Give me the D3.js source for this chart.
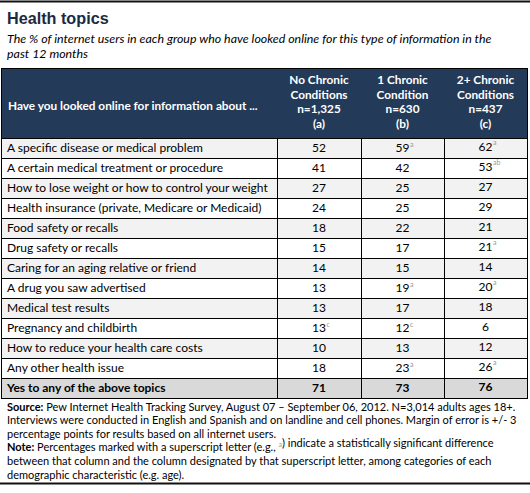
<!DOCTYPE html>
<html><head><meta charset="utf-8">
<script src="https://cdn.jsdelivr.net/npm/d3@7"></script>
<style>body{margin:0;background:#fff}svg{display:block}</style>
</head><body>
<script>
const titleText = "Health topics";
const subtitleLines = ["The % of internet users in each group who have looked online for this type of information in the", "past 12 months"];
const rowHeader = "Have you looked online for information about ...";
const columnKeys = ["a", "b", "c"];
const columnHeaders = [
  ["No Chronic", "Conditions", "n=1,325", "(a)"],
  ["1 Chronic", "Condition", "n=630", "(b)"],
  ["2+ Chronic", "Conditions", "n=437", "(c)"]
];
const topics = [
  "A specific disease or medical problem",
  "A certain medical treatment or procedure",
  "How to lose weight or how to control your weight",
  "Health insurance (private, Medicare or Medicaid)",
  "Food safety or recalls",
  "Drug safety or recalls",
  "Caring for an aging relative or friend",
  "A drug you saw advertised",
  "Medical test results",
  "Pregnancy and childbirth",
  "How to reduce your health care costs",
  "Any other health issue",
  "Yes to any of the above topics"
];
const noChronic = [52, 41, 27, 24, 18, 15, 14, 13, 13, 13, 10, 18, 71];
const oneChronic = [59, 42, 25, 25, 22, 17, 15, 19, 17, 12, 13, 23, 73];
const twoPlusChronic = [62, 53, 27, 29, 21, 21, 14, 20, 18, 6, 12, 26, 76];
const noChronicSup = ["", "", "", "", "", "", "", "", "", "c", "", "", ""];
const oneChronicSup = ["a", "", "", "", "", "", "", "a", "", "c", "", "a", ""];
const twoPlusChronicSup = ["a", "ab", "", "", "", "a", "", "a", "", "", "", "a", ""];
const footerLines = [
  [["Source:", true], [" Pew Internet Health Tracking Survey, August 07 \u2013 September 06, 2012. N=3,014 adults ages 18+.", false]],
  [["Interviews were conducted in English and Spanish and on landline and cell phones.  Margin of error is +/- 3", false]],
  [["percentage points for results based on all internet users.", false]],
  [["Note:", true], [" Percentages marked with a superscript letter (e.g., ", false], ["a", "sup"], [") indicate a statistically significant difference", false]],
  [["between that column and the column designated by that superscript letter, among categories of each", false]],
  [["demographic characteristic (e.g. age).", false]]
];

const W = 530, H = 493;
const FONT = "Lato, 'Open Sans', sans-serif";
const values = [noChronic, oneChronic, twoPlusChronic];
const sups = [noChronicSup, oneChronicSup, twoPlusChronicSup];

const svg = d3.select("body").append("svg").attr("width", W).attr("height", H);

// frame lines
svg.append("line").attr("x1", 0).attr("x2", W).attr("y1", 1.5).attr("y2", 1.5).attr("stroke", "#111").attr("stroke-width", 2);
svg.append("line").attr("x1", 0).attr("x2", W).attr("y1", 483.5).attr("y2", 483.5).attr("stroke", "#111").attr("stroke-width", 2);

svg.append("text").attr("x", 7).attr("y", 24).text(titleText)
  .attr("font-family", "'Liberation Sans', Arial, sans-serif").attr("font-weight", "bold")
  .attr("font-size", 16.2).attr("fill", "#1c2a3f");

subtitleLines.forEach((t, i) => {
  svg.append("text").attr("x", 7).attr("y", 43 + i * 15).text(t)
    .attr("font-family", FONT).attr("font-style", "italic").attr("font-size", 12.4).attr("fill", "#000");
});

// scales
const colEdges = [1, 277, 361, 444, 527];
const colRight = colEdges[colEdges.length - 1];
const y = d3.scaleBand().domain(d3.range(topics.length)).range([138, 398]).padding(0);
const headerTop = 68, headerBottom = 138;

// header
svg.append("rect").attr("x", 1).attr("y", headerTop).attr("width", colRight - 1).attr("height", headerBottom - headerTop)
  .attr("fill", "#243a59");
svg.append("text").attr("x", 8).attr("y", 110).text(rowHeader)
  .attr("font-family", FONT).attr("font-weight", "bold").attr("font-size", 11.8).attr("fill", "#fff");
columnKeys.forEach((k, ci) => {
  const cx = (colEdges[ci + 1] + colEdges[ci + 2]) / 2;
  columnHeaders[ci].forEach((t, li) => {
    svg.append("text").attr("x", cx).attr("y", 84 + li * 14.7).attr("text-anchor", "middle").text(t)
      .attr("font-family", FONT).attr("font-weight", "bold").attr("font-size", 11.8).attr("fill", "#fff");
  });
});

// rows
const last = topics.length - 1;
const rows = svg.selectAll("g.row").data(topics).join("g").attr("class", "row");
rows.append("rect").attr("x", 1).attr("y", (d, i) => y(i)).attr("width", colRight - 1).attr("height", y.bandwidth())
  .attr("fill", (d, i) => i === last ? "#d9d9d9" : (i % 2 === 0 ? "#f2f2f2" : "#ffffff"));
rows.append("text").attr("x", 7).attr("y", (d, i) => y(i) + y.bandwidth() / 2 + 4.4).text(d => d)
  .attr("font-family", FONT).attr("font-size", 12).attr("fill", "#000")
  .attr("font-weight", (d, i) => i === last ? "bold" : "normal");

columnKeys.forEach((k, ci) => {
  const cx = (colEdges[ci + 1] + colEdges[ci + 2]) / 2;
  const dy = ci === 2 ? -1.5 : 0;
  topics.forEach((t, ri) => {
    const tx = svg.append("text").attr("x", cx).attr("y", y(ri) + y.bandwidth() / 2 + 4.4 + dy)
      .attr("text-anchor", "middle")
      .attr("font-family", FONT).attr("font-size", 12).attr("fill", "#000")
      .attr("font-weight", ri === last ? "bold" : "normal")
      .text(values[ci][ri]);
    const s = sups[ci][ri];
    if (s) {
      const w = tx.node().getComputedTextLength();
      svg.append("text").attr("x", cx + w / 2 + 0.5).attr("y", y(ri) + y.bandwidth() / 2 - 1.5 + dy)
        .attr("font-family", FONT).attr("font-size", 7).attr("fill", "#9a9a9a").text(s);
    }
  });
});

// grid lines
const gridTop = headerBottom, gridBottom = y(last) + y.bandwidth();
d3.range(topics.length + 1).forEach(i => {
  const yy = i === topics.length ? gridBottom : y(i);
  svg.append("line").attr("x1", 1).attr("x2", colRight).attr("y1", yy + 0.5).attr("y2", yy + 0.5).attr("stroke", "#000").attr("stroke-width", 1);
});
colEdges.forEach((cx, i) => {
  const top = (i === 0 || i === colEdges.length - 1) ? headerTop : gridTop;
  svg.append("line").attr("x1", cx + 0.5).attr("x2", cx + 0.5).attr("y1", top).attr("y2", gridBottom + 1).attr("stroke", "#000").attr("stroke-width", 1);
});
svg.append("line").attr("x1", 1).attr("x2", colRight).attr("y1", headerTop + 0.5).attr("y2", headerTop + 0.5).attr("stroke", "#000");

// footer
footerLines.forEach((parts, li) => {
  const t = svg.append("text").attr("x", 7).attr("y", 410.5 + li * 13.6)
    .attr("font-family", FONT).attr("font-size", 11).attr("fill", "#000");
  parts.forEach(([s, b]) => {
    if (b === "sup") {
      t.append("tspan").attr("font-size", 7).attr("fill", "#9a9a9a").attr("dy", -4).text(s);
      t.append("tspan").attr("dy", 4).text("");
    } else {
      t.append("tspan").attr("font-weight", b ? "bold" : "normal").text(s);
    }
  });
});
</script>
</body></html>
